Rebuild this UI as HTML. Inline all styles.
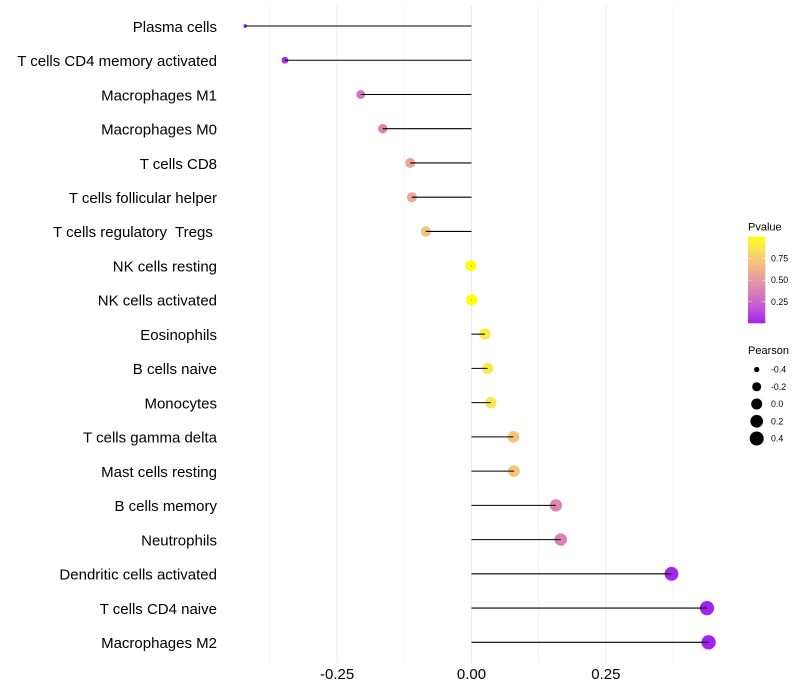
<!DOCTYPE html>
<html lang="en">
<head>
<meta charset="utf-8">
<title>Immune cell correlation lollipop chart</title>
<style>
html,body{margin:0;padding:0;background:#fff;}
svg{display:block;font-family:"Liberation Sans",Arial,sans-serif;}
text{white-space:pre;}
</style>
</head>
<body>
<svg id="chart" xmlns="http://www.w3.org/2000/svg" width="800" height="700" viewBox="0 0 800 700">
<rect x="0" y="0" width="800" height="700" fill="#ffffff"></rect>
<g id="grid"></g>
<g id="points"></g>
<g id="segments"></g>
<g id="ylabels"></g>
<g id="xlabels"></g>
<g id="legend-color">
<text x="748" y="230.5" font-size="11" fill="#000">Pvalue</text>
</g>
<g id="legend-size">
<text x="748" y="354" font-size="11" fill="#000">Pearson</text>
</g>
</svg>
<script>
const categories = ["Plasma cells","T cells CD4 memory activated","Macrophages M1","Macrophages M0","T cells CD8","T cells follicular helper","T cells regulatory  Tregs ","NK cells resting","NK cells activated","Eosinophils","B cells naive","Monocytes","T cells gamma delta","Mast cells resting","B cells memory","Neutrophils","Dendritic cells activated","T cells CD4 naive","Macrophages M2"];
const pearson = [-0.421,-0.347,-0.206,-0.165,-0.114,-0.111,-0.085,-0.001,0.0005,0.025,0.030,0.036,0.078,0.079,0.157,0.166,0.372,0.438,0.441];
const pvalue = [0.01,0.03,0.31,0.39,0.55,0.56,0.71,1.0,1.0,0.90,0.90,0.88,0.71,0.71,0.40,0.38,0.02,0.01,0.01];
const xMajorTicks = [-0.25,0,0.25];
const xMinorTicks = [-0.375,-0.125,0.125,0.375];
const xTickLabels = ["-0.25","0.00","0.25"];
const colorLegendTicks = [0.25,0.5,0.75];
const colorLegendLabels = ["0.25","0.50","0.75"];
const sizeLegendValues = [-0.4,-0.2,0,0.2,0.4];
const sizeLegendLabels = ["-0.4","-0.2","0.0","0.2","0.4"];

const NS = "http://www.w3.org/2000/svg";
function make(tag, attrs, parent, txt) {
  const el = document.createElementNS(NS, tag);
  for (const k in attrs) el.setAttribute(k, attrs[k]);
  if (txt !== undefined) el.textContent = txt;
  parent.appendChild(el);
  return el;
}
function xScale(v) { return 471.5 + v * 537.6; }
function yScale(i) { return 26 + i * 34.24; }
const sizeMin = Math.min.apply(null, pearson);
const sizeMax = Math.max.apply(null, pearson);
function radius(v) {
  const t = Math.max(0, (v - sizeMin) / ((sizeMax - sizeMin) || 1));
  const size = 1 + 5 * Math.sqrt(t);
  return (2.13 * size + 1.5) / 2;
}
function toLinear(c) { c /= 255; return c <= 0.04045 ? c / 12.92 : Math.pow((c + 0.055) / 1.055, 2.4); }
function fromLinear(c) { const s = c <= 0.0031308 ? 12.92 * c : 1.055 * Math.pow(c, 1 / 2.4) - 0.055; return Math.round(Math.min(1, Math.max(0, s)) * 255); }
function labF(t) { return t > 0.008856 ? Math.cbrt(t) : 7.787 * t + 16 / 116; }
function labFinv(t) { return t > 0.2069 ? t * t * t : (t - 16 / 116) / 7.787; }
function rgbToLab(c) {
  const r = toLinear(c[0]), g = toLinear(c[1]), b = toLinear(c[2]);
  const X = (0.4124 * r + 0.3576 * g + 0.1805 * b) / 0.95047;
  const Y = 0.2126 * r + 0.7152 * g + 0.0722 * b;
  const Z = (0.0193 * r + 0.1192 * g + 0.9505 * b) / 1.08883;
  return [116 * labF(Y) - 16, 500 * (labF(X) - labF(Y)), 200 * (labF(Y) - labF(Z))];
}
function labToRgb(l) {
  const fy = (l[0] + 16) / 116, fx = fy + l[1] / 500, fz = fy - l[2] / 200;
  const X = labFinv(fx) * 0.95047, Y = labFinv(fy), Z = labFinv(fz) * 1.08883;
  const r = 3.2406 * X - 1.5372 * Y - 0.4986 * Z;
  const g = -0.9689 * X + 1.8758 * Y + 0.0415 * Z;
  const b = 0.0557 * X - 0.2040 * Y + 1.0570 * Z;
  return "rgb(" + fromLinear(r) + "," + fromLinear(g) + "," + fromLinear(b) + ")";
}
const labLow = rgbToLab([160, 32, 240]);
const labHigh = rgbToLab([255, 255, 0]);
function colorAt(t) {
  t = Math.max(0, Math.min(1, t));
  return labToRgb([0, 1, 2].map(function (k) { return labLow[k] + (labHigh[k] - labLow[k]) * t; }));
}
function colorScale(p) { return colorAt((p - 0.003) / 0.997); }
function barY(p) { return 323.3 - ((p - 0.003) / 0.997) * 86.6; }

const gridG = document.getElementById("grid");
xMinorTicks.forEach(function (v) {
  const el = make("line", { x1: xScale(v), x2: xScale(v), y1: 5.5, y2: 663, stroke: "#ebebeb", "stroke-width": 0.53 }, gridG);
  
  
});
xMajorTicks.forEach(function (v, i) {
  const el = make("line", { x1: xScale(v), x2: xScale(v), y1: 5.5, y2: 663, stroke: "#ebebeb", "stroke-width": 1.07 }, gridG);
  
  
  const t = make("text", { x: xScale(v), y: 679, "text-anchor": "middle", "font-size": 15, fill: "#000" }, document.getElementById("xlabels"), xTickLabels[i]);
  
  
});

categories.forEach(function (name, i) {
  const lab = make("text", { x: 217, y: yScale(i) + 5.8, "text-anchor": "end", "font-size": 15, fill: "#000" }, document.getElementById("ylabels"), name);
  
  
  const pt = make("circle", { cx: xScale(pearson[i]), cy: yScale(i), r: radius(pearson[i]), fill: colorScale(pvalue[i]) }, document.getElementById("points"));
  
  
  const seg = make("line", { x1: xScale(0), x2: xScale(pearson[i]), y1: yScale(i), y2: yScale(i), stroke: "#000", "stroke-width": 1.07 }, document.getElementById("segments"));
  
  
});

const colorG = document.getElementById("legend-color");
const defs = make("defs", {}, colorG);
const grad = make("linearGradient", { id: "pgrad", x1: 0, x2: 0, y1: 1, y2: 0 }, defs);
for (let s = 0; s <= 20; s++) {
  make("stop", { offset: s / 20, "stop-color": colorAt(s / 20) }, grad);
}
const bar = make("rect", { x: 748, y: 236.7, width: 17.3, height: 86.6, fill: "url(#pgrad)" }, colorG);


colorLegendTicks.forEach(function (p, i) {
  const yy = barY(p);
  const a = make("line", { x1: 748, x2: 751.5, y1: yy, y2: yy, stroke: "#fff", "stroke-width": 0.5 }, colorG);
  
  
  const b = make("line", { x1: 761.8, x2: 765.3, y1: yy, y2: yy, stroke: "#fff", "stroke-width": 0.5 }, colorG);
  
  
  const t = make("text", { x: 771, y: yy + 3.1, "font-size": 8.8, fill: "#000" }, colorG, colorLegendLabels[i]);
  
  
});

const sizeG = document.getElementById("legend-size");
sizeLegendValues.forEach(function (v, i) {
  const yy = 369.5 + i * 17.25;
  const c = make("circle", { cx: 756.7, cy: yy, r: radius(v), fill: "#000" }, sizeG);
  
  
  const t = make("text", { x: 771, y: yy + 3.1, "font-size": 8.8, fill: "#000" }, sizeG, sizeLegendLabels[i]);
  
  
});
</script>
</body>
</html>
